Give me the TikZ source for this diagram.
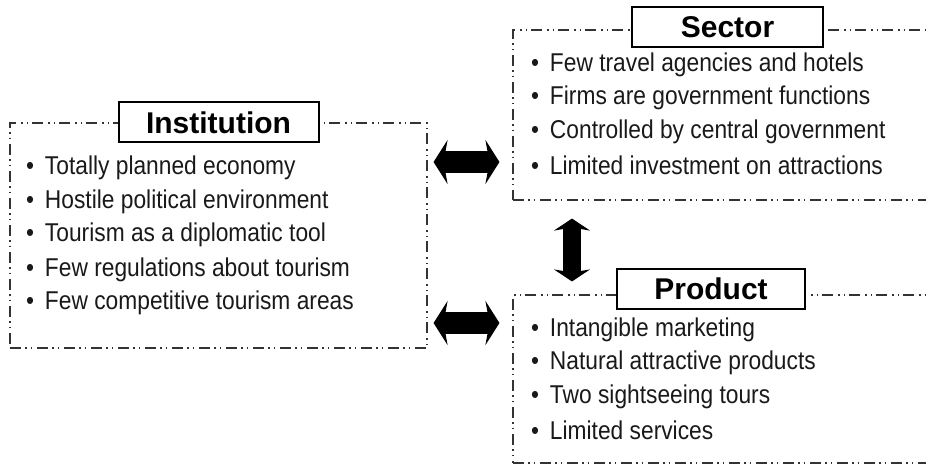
\documentclass[tikz,border=0pt]{standalone}
\usepackage{fontspec}
\setmainfont{Liberation Sans}
\usetikzlibrary{arrows.meta}
\tikzset{
    groupbox/.style = {draw = black!80, line width = 1.1pt, inner sep = 0pt,
        dash pattern = on 11pt off 4pt on 1.5pt off 4pt on 1.5pt off 5pt},
    heading/.style = {draw, line width = 2pt, fill = white, inner sep = 0pt,
        minimum height = 40pt, font = \fontsize{30}{34}\selectfont\bfseries},
    item/.style = {anchor = west, inner sep = 0pt, text = black!90,
        font = \fontsize{23}{27}\selectfont},
    bigarrow/.style = {line width = 22pt,
        {Stealth[length=14pt,width=44pt,inset=4pt]}-{Stealth[length=14pt,width=44pt,inset=4pt]}},
    uparrow/.style = {line width = 18pt,
        {Stealth[length=12pt,width=36pt,inset=3pt]}-{Stealth[length=12pt,width=36pt,inset=3pt]}}
}
\begin{document}
\begin{tikzpicture}[x=1pt, y=-1pt]
        \useasboundingbox (0,0) rectangle (926,466);
        \clip (0,0) rectangle (926,466);
        %frames:
        \node[groupbox, minimum width = 417pt, minimum height = 225pt] (inst) at (218.5,235.5) {};
        \node[groupbox, minimum width = 429pt, minimum height = 170pt] (sec) at (727.5,115) {};
        \node[groupbox, minimum width = 427pt, minimum height = 168pt] (prod) at (726.5,379) {};

        %titles:
        \node[heading, minimum width = 200pt] (instT) at (inst.north) {Institution};
        \node[heading, minimum width = 191pt] (secT) at ([yshift=2pt]sec.north) {Sector};
        \node[heading, minimum width = 188pt] (prodT) at (711,289) {Product};

        %items:
        \foreach \x/\y/\n/\l in {26/168/i1/Totally planned economy,26/202/i2/Hostile political environment,
            26/235/i3/Tourism as a diplomatic tool,26/270/i4/Few regulations about tourism,
            26/303/i5/Few competitive tourism areas,
            531/65/s1/Few travel agencies and hotels,531/98/s2/Firms are government functions,
            531/132/s3/Controlled by central government,531/165/s4/Limited investment on attractions,
            531/330/p1/Intangible marketing,531/363/p2/Natural attractive products,
            531/397/p3/Two sightseeing tours,531/430/p4/Limited services}{
            \node[item] (\n) at (\x,\y) {\scalebox{0.99}[1.12]{\makebox[19pt][l]{\textbullet}\l}};
        }

        %arrows:
        \coordinate (ia) at (0,162);
        \coordinate (pa) at (0,323);
        \coordinate (va) at (572,0);
        \draw[bigarrow, shorten <= 6pt, shorten >= 13pt] (inst.east |- ia) -- (sec.west |- ia);
        \draw[bigarrow, shorten <= 6pt, shorten >= 13pt] (inst.east |- pa) -- (prod.west |- pa);
        \draw[uparrow, shorten <= 18pt, shorten >= 13pt] (sec.south -| va) -- (prod.north -| va);
    \end{tikzpicture}
\end{document}
